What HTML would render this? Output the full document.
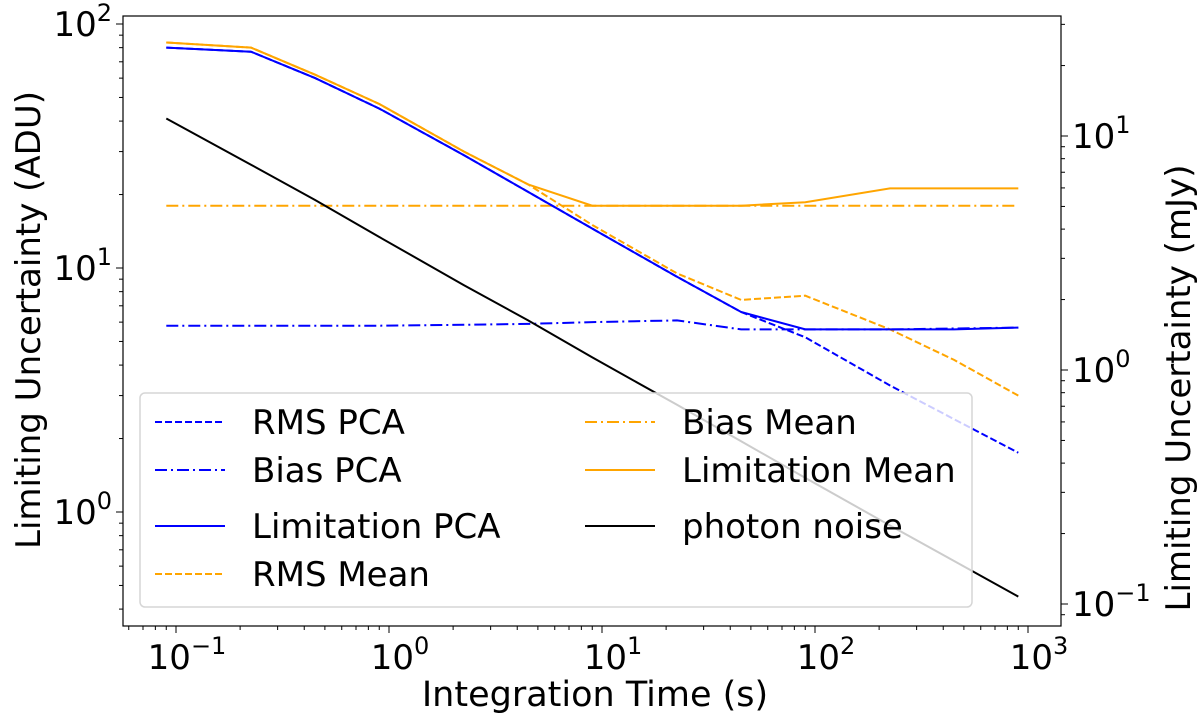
<!DOCTYPE html>
<html><head><meta charset="utf-8"><style>
body{margin:0;background:#fff}
svg text{font-family:"DejaVu Sans","Liberation Sans",sans-serif;fill:#000}
</style></head><body>
<svg id="c" width="1200" height="720"></svg>
<script>
const times=[0.09,0.225,0.45,0.9,2.25,4.5,9,22.5,45,90,225,450,900];
const rmsPCA=[80,77,60,45,29,20.5,14.5,9.2,6.6,5.2,3.3,2.4,1.75];
const biasPCA=[5.8,5.8,5.8,5.8,5.85,5.9,6.0,6.1,5.6,5.6,5.6,5.65,5.7];
const limPCA=[80,77,60,45,29,20.5,14.5,9.2,6.6,5.6,5.6,5.6,5.7];
const rmsMean=[84,80,62,47,30,22,15,9.5,7.4,7.7,5.6,4.2,3.0];
const biasMean=[18,18,18,18,18,18,18,18,18,18,18,18,18];
const limMean=[84,80,62,47,30,22,18,18,18,18.6,21.2,21.2,21.2];
const photon=[41,26.5,19,13.4,8.5,6.1,4.3,2.75,1.95,1.38,0.88,0.63,0.45];
const xTickExp=[-1,0,1,2,3];
const yTickExp=[0,1,2];
const y2TickExp=[-1,0,1];
const L=123,R=1061,T=16,B=626;
const X=v=>389+213*Math.log10(v);
const Y=v=>24+244*(2-Math.log10(v));
const Y2=v=>370-234*Math.log10(v);
const svg=document.getElementById('c');
const NS='http://www.w3.org/2000/svg';
function mk(t,a,p){const e=document.createElementNS(NS,t);for(const k in a)e.setAttribute(k,a[k]);(p||svg).appendChild(e);return e;}
function sup(x,y,e,anchor){const t=mk('text',{x:x,y:y,'font-size':34,'text-anchor':anchor});t.textContent='10';const s=mk('tspan',{dy:-15,'font-size':24},t);s.textContent=e<0?'\u2212'+(-e):String(e);return t;}
for(let e=-2;e<=3;e++){for(let m=1;m<10;m++){const v=m*Math.pow(10,e);const x=X(v);if(x<L||x>R)continue;
 const tk=mk('line',{x1:x,x2:x,y1:B,y2:B+(m==1?7:4),stroke:'#000','stroke-width':1});
 }}
xTickExp.forEach(e=>{const t=sup(X(Math.pow(10,e))+11,669,e,'middle');});
for(let e=-1;e<=2;e++){for(let m=1;m<10;m++){const v=m*Math.pow(10,e);const y=Y(v);if(y<T||y>B)continue;
 const tk=mk('line',{x1:L,x2:L-(m==1?7:4),y1:y,y2:y,stroke:'#000'});
 }}
yTickExp.forEach(e=>{const t=sup(112,Y(Math.pow(10,e))+12,e,'end');});
for(let e=-2;e<=2;e++){for(let m=1;m<10;m++){const v=m*Math.pow(10,e);const y=Y2(v);if(y<T||y>B)continue;
 const tk=mk('line',{x1:R,x2:R+(m==1?7:4),y1:y,y2:y,stroke:'#000'});
 }}
y2TickExp.forEach(e=>{const t=sup(1072,Y2(Math.pow(10,e))+12,e,'start');});
function line(vals,color,dash,name){const d=vals.map((v,i)=>(i?'L':'M')+X(times[i]).toFixed(1)+','+Y(v).toFixed(1)).join('');
 const p=mk('path',{d:d,fill:'none',stroke:color,'stroke-width':2,'stroke-dasharray':dash});
 }
const BL='#0000ff',OR='#ffa500';
line(biasMean,OR,'12,4,2,4','bias-mean-line');
line(rmsMean,OR,'7,3','rms-mean-line');
line(limMean,OR,'none','limitation-mean-line');
line(biasPCA,BL,'12,4,2,4','bias-pca-line');
line(rmsPCA,BL,'7,3','rms-pca-line');
line(limPCA,BL,'none','limitation-pca-line');
line(photon,'#000','none','photon-noise-line');
const fr=mk('rect',{x:L,y:T,width:R-L,height:B-T,fill:'none',stroke:'#000','stroke-width':1.2});

const lg=mk('g',{});
mk('rect',{x:140,y:393,width:832,height:214,rx:5,fill:'rgba(255,255,255,0.8)',stroke:'#d6d6d6','stroke-width':1.5},lg);
const items=[['RMS PCA',BL,'7,3',155,422],['Bias PCA',BL,'12,4,2,4',155,470],['Limitation PCA',BL,'none',155,526],['RMS Mean',OR,'7,3',155,574],
['Bias Mean',OR,'12,4,2,4',585,422],['Limitation Mean',OR,'none',585,470],['photon noise','#000','none',585,526]];
items.forEach(it=>{const g=mk('g',{},lg);
 mk('line',{x1:it[3],x2:it[3]+70,y1:it[4],y2:it[4],stroke:it[1],'stroke-width':2,'stroke-dasharray':it[2]},g);
 const t=mk('text',{x:it[3]+97,y:it[4]+12,'font-size':34},g);t.textContent=it[0];});
const xt=mk('text',{x:595,y:706,'font-size':35,'text-anchor':'middle'});xt.textContent='Integration Time (s)';

const yt=mk('text',{x:0,y:0,'font-size':34,'text-anchor':'middle',transform:'translate(40,320) rotate(-90)'});yt.textContent='Limiting Uncertainty (ADU)';

const y2t=mk('text',{x:0,y:0,'font-size':34,'text-anchor':'middle',transform:'translate(1190,388) rotate(-90)'});y2t.textContent='Limiting Uncertainty (mJy)';

</script>
</body></html>
